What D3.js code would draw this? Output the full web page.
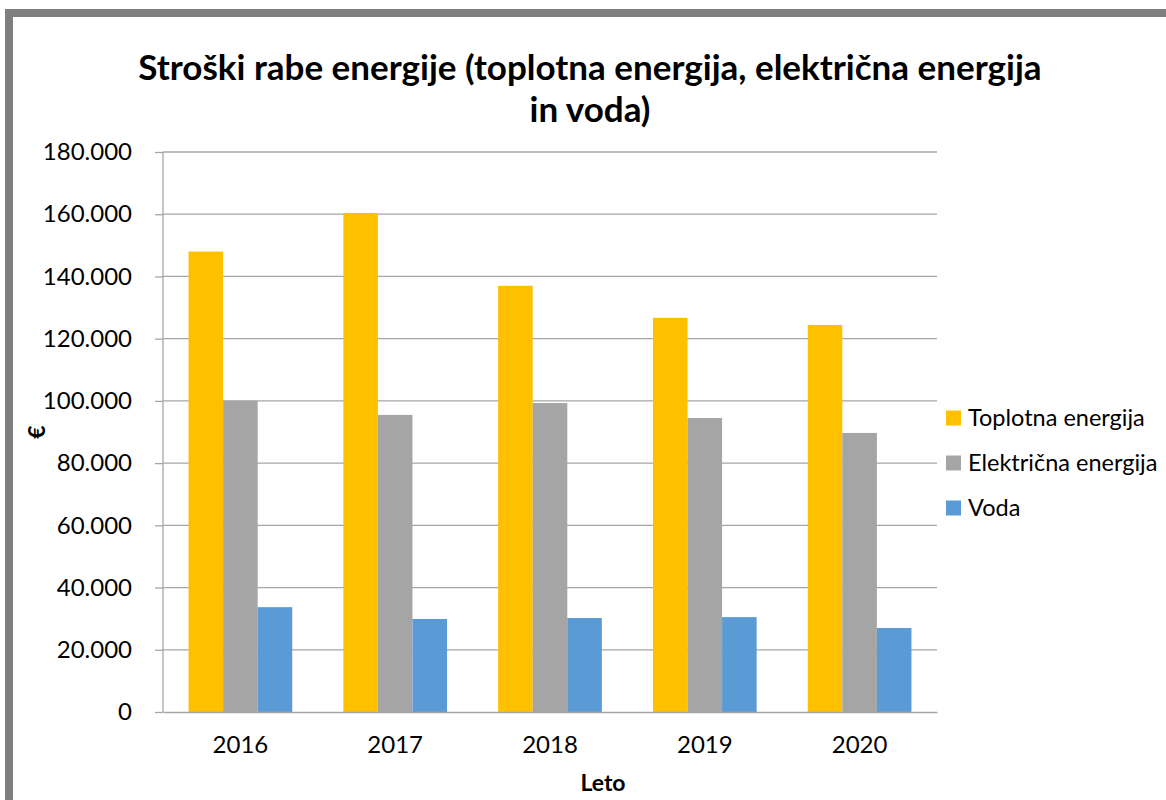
<!DOCTYPE html>
<html>
<head>
<meta charset="utf-8">
<script src="https://cdn.jsdelivr.net/npm/d3@7"></script>
<style>
  body { margin: 0; background: #fff; }
  text { font-family: Lato, "Open Sans", sans-serif; }
</style>
</head>
<body>
<div id="chart"></div>
<script>
// Podatki
const years = ["2016", "2017", "2018", "2019", "2020"];
const seriesNames = ["Toplotna energija", "Električna energija", "Voda"];
const toplotna = [148000, 160400, 137000, 126700, 124400];
const elektricna = [100000, 95500, 99300, 94500, 89700];
const voda = [33700, 29900, 30200, 30500, 27000];
const yTicks = [0, 20000, 40000, 60000, 80000, 100000, 120000, 140000, 160000, 180000];
const colors = ["#FFC000", "#A5A5A5", "#5B9BD5"];

const W = 1166, H = 800;
const margin = { top: 152, right: 229, bottom: 88, left: 163 },
    width = W - margin.left - margin.right,
    height = H - margin.top - margin.bottom;

const svg = d3.select("#chart").append("svg")
    .attr("width", W)
    .attr("height", H);

// okvir
svg.append("rect")
    .attr("x", 9).attr("y", 13)
    .attr("width", W + 20).attr("height", H + 20)
    .attr("fill", "#fff")
    .attr("stroke", "#7f7f7f")
    .attr("stroke-width", 8);

// naslov
const title = svg.append("text")
    .attr("text-anchor", "middle")
    .attr("font-size", 35)
    .attr("font-weight", "bold")
    .attr("fill", "#000");
title.append("tspan").attr("x", 590).attr("y", 80)
    .text("Stroški rabe energije (toplotna energija, električna energija");
title.append("tspan").attr("x", 590).attr("y", 122).text("in voda)");

const g = svg.append("g")
    .attr("transform", "translate(" + margin.left + "," + margin.top + ")");

const x0 = d3.scaleBand().domain(years).range([0, width]).paddingInner(0.33).paddingOuter(0.165);
const x1 = d3.scaleBand().domain(seriesNames).range([0, x0.bandwidth()]);
const y = d3.scaleLinear().domain([0, 180000]).range([height, 0]);

const fmt = v => d3.format(",")(v).replace(/,/g, ".");

// mreža
g.selectAll(".grid").data(yTicks.slice(1)).enter().append("line")
    .attr("x1", 0).attr("x2", width)
    .attr("y1", d => y(d)).attr("y2", d => y(d))
    .attr("stroke", "#a6a6a6").attr("stroke-width", 1.3);

// stolpci
const data = [toplotna, elektricna, voda];
const groups = g.selectAll(".year").data(years).enter().append("g")
    .attr("transform", d => "translate(" + x0(d) + ",0)");
groups.selectAll("rect")
    .data((d, i) => seriesNames.map((s, j) => ({ s: s, v: data[j][i], c: colors[j] })))
    .enter().append("rect")
    .attr("x", d => x1(d.s))
    .attr("y", d => y(d.v))
    .attr("width", x1.bandwidth())
    .attr("height", d => height - y(d.v))
    .attr("fill", d => d.c);

// os y
const yAxis = g.append("g")
    .call(d3.axisLeft(y).tickValues(yTicks).tickFormat(fmt).tickSize(8).tickPadding(23));
yAxis.selectAll("line").attr("stroke", "#a6a6a6").attr("stroke-width", 1.3);
yAxis.select(".domain").attr("stroke", "#a6a6a6").attr("stroke-width", 1.3).attr("d", "M0,0V" + height);
yAxis.selectAll("text").attr("font-size", 24).attr("fill", "#000")
    .style("font-family", "Lato, 'Open Sans', sans-serif");

// os x
const xAxis = g.append("g")
    .attr("transform", "translate(0," + height + ")")
    .call(d3.axisBottom(x0).tickSize(0).tickPadding(24));
xAxis.select(".domain").attr("stroke", "#a6a6a6").attr("stroke-width", 1.3);
xAxis.selectAll("text").attr("font-size", 24).attr("fill", "#000")
    .style("font-family", "Lato, 'Open Sans', sans-serif");

// naslova osi
svg.append("text")
    .attr("x", 603).attr("y", 791)
    .attr("text-anchor", "middle")
    .attr("font-size", 23).attr("font-weight", "bold")
    .text("Leto");
svg.append("text")
    .attr("transform", "translate(45,432) rotate(-90)")
    .attr("text-anchor", "middle")
    .attr("font-size", 23).attr("font-weight", "bold")
    .text("€");

// legenda
const legend = svg.append("g").attr("transform", "translate(946,418)");
seriesNames.forEach((s, i) => {
    legend.append("rect")
        .attr("x", 0).attr("y", i * 45 - 7.5)
        .attr("width", 15).attr("height", 15)
        .attr("fill", colors[i]);
    legend.append("text")
        .attr("x", 22).attr("y", i * 45 + 8)
        .attr("font-size", 23.5)
        .text(s);
});
</script>
</body>
</html>
